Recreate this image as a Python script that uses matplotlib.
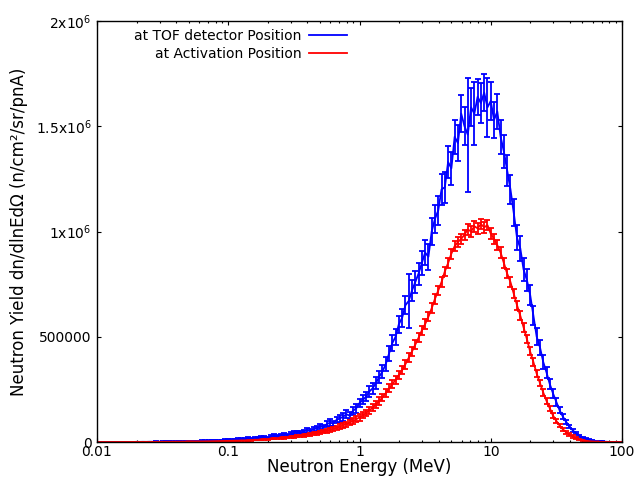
import numpy as np
import matplotlib
matplotlib.use('Agg')
import matplotlib.pyplot as plt
from matplotlib.ticker import FixedLocator, FixedFormatter, LogLocator, NullFormatter

energy = [
    0.01000, 0.01059, 0.01122, 0.01189, 0.01259, 0.01334, 0.01413, 0.01496, 0.01585, 0.01679,
    0.01778, 0.01884, 0.01995, 0.02113, 0.02239, 0.02371, 0.02512, 0.02661, 0.02818, 0.02985,
    0.03162, 0.03350, 0.03548, 0.03758, 0.03981, 0.04217, 0.04467, 0.04732, 0.05012, 0.05309,
    0.05623, 0.05957, 0.06310, 0.06683, 0.07079, 0.07499, 0.07943, 0.08414, 0.08913, 0.09441,
    0.1000, 0.1059, 0.1122, 0.1189, 0.1259, 0.1334, 0.1413, 0.1496, 0.1585, 0.1679,
    0.1778, 0.1884, 0.1995, 0.2113, 0.2239, 0.2371, 0.2512, 0.2661, 0.2818, 0.2985,
    0.3162, 0.3350, 0.3548, 0.3758, 0.3981, 0.4217, 0.4467, 0.4732, 0.5012, 0.5309,
    0.5623, 0.5957, 0.6310, 0.6683, 0.7079, 0.7499, 0.7943, 0.8414, 0.8913, 0.9441,
    1.000, 1.059, 1.122, 1.189, 1.259, 1.334, 1.413, 1.496, 1.585, 1.679,
    1.778, 1.884, 1.995, 2.113, 2.239, 2.371, 2.512, 2.661, 2.818, 2.985,
    3.162, 3.350, 3.548, 3.758, 3.981, 4.217, 4.467, 4.732, 5.012, 5.309,
    5.623, 5.957, 6.310, 6.683, 7.079, 7.499, 7.943, 8.414, 8.913, 9.441,
    10.00, 10.59, 11.22, 11.89, 12.59, 13.34, 14.13, 14.96, 15.85, 16.79,
    17.78, 18.84, 19.95, 21.13, 22.39, 23.71, 25.12, 26.61, 28.18, 29.85,
    31.62, 33.50, 35.48, 37.58, 39.81, 42.17, 44.67, 47.32, 50.12, 53.09,
    56.23, 59.57, 63.10, 66.83, 70.79, 74.99, 79.43, 84.14, 89.13, 94.41,
    100.0,
]

# yields in units of 1000 n/cm^2/sr/pnA
tof_yield_k = [
    0, 0, 0, 0, 0, 0.2, 0, 0, 0.3, 0,
    0.5, 0, 0.8, 0.6, 1.0, 0.7, 1.2, 0.9, 1.5, 1.3,
    1.8, 1.5, 2.2, 2.0, 2.6, 2.4, 3.0, 3.5, 3.2, 4.0,
    4.5, 4.2, 5.2, 5.0, 6.0, 6.8, 6.3, 7.5, 8.2, 8.8,
    10, 12, 9, 13, 15, 13, 17, 16, 20, 18,
    22, 25, 21, 27, 30, 26, 33, 36, 32, 40,
    43, 46, 42, 50, 55, 52, 60, 66, 74, 70,
    84, 92, 88, 105, 112, 120, 132, 125, 148, 160,
    185, 200, 215, 240, 255, 280, 310, 335, 370, 420,
    470, 500, 560, 590, 650, 670, 720, 760, 800, 850,
    900, 880, 1000, 1060, 1100, 1200, 1210, 1330, 1300, 1450,
    1420, 1560, 1500, 1460, 1590, 1560, 1640, 1610, 1660, 1590,
    1620, 1530, 1570, 1450, 1380, 1290, 1200, 1090, 970, 920,
    820, 770, 700, 600, 500, 450, 380, 330, 275, 230,
    190, 150, 120, 95, 75, 55, 42, 30, 22, 15,
    10, 7, 5, 3, 2, 1, 0.5, 0, 0, 0,
    0,
]
tof_err_k = [
    0, 0, 0, 0, 0, 0.3, 0, 0, 0.4, 0,
    0.5, 0, 0.7, 0.6, 0.8, 0.7, 0.9, 0.8, 1.1, 1.0,
    1.2, 1.1, 1.4, 1.3, 1.5, 1.5, 1.7, 1.9, 1.8, 2.1,
    2.3, 2.2, 2.5, 2.4, 2.7, 2.9, 2.8, 3.1, 3.3, 3.5,
    3.6, 3.9, 3.5, 4.0, 4.3, 4.0, 4.5, 4.4, 4.9, 4.6,
    5.2, 5.6, 5.0, 5.8, 6.2, 5.7, 6.6, 7.0, 6.5, 7.5,
    8, 8.5, 8, 9, 10, 9.5, 11, 12, 13, 12,
    14, 15, 14, 16, 17, 18, 19, 18, 20, 20,
    20, 21, 22, 24, 25, 27, 28, 30, 32, 34,
    36, 38, 40, 42, 44, 130, 48, 50, 52, 55,
    60, 62, 65, 68, 70, 72, 75, 78, 80, 82,
    85, 88, 90, 270, 90, 150, 85, 95, 88, 140,
    90, 85, 85, 80, 78, 75, 70, 65, 60, 58,
    55, 52, 48, 44, 40, 36, 32, 28, 24, 20,
    17, 14, 12, 10, 8, 7, 6, 5, 4, 3,
    2.5, 2, 1.5, 1.2, 1, 0.8, 0.5, 0, 0, 0,
    0,
]
act_yield_k = [
    0, 0, 0, 0, 0, 0, 0, 0, 0, 0,
    0.2, 0.2, 0.3, 0.3, 0.4, 0.4, 0.5, 0.6, 0.7, 0.8,
    0.9, 1.0, 1.1, 1.2, 1.3, 1.4, 1.5, 1.7, 1.8, 2.0,
    2.2, 2.4, 2.6, 2.9, 3.1, 3.4, 3.7, 4.0, 4.3, 4.6,
    5.0, 5.4, 5.9, 6.4, 7.0, 7.6, 8.3, 9.0, 9.8, 10.6,
    11.5, 12.5, 13.6, 14.8, 16.0, 17.3, 18.6, 20.0, 21.5, 23.0,
    25, 27, 29, 31.5, 34, 36.5, 39, 42, 45, 49,
    53, 57, 62, 67, 73, 79, 85, 92, 100, 108,
    117, 127, 138, 150, 163, 178, 194, 212, 232, 255,
    275, 295, 318, 342, 370, 400, 430, 462, 495, 530,
    560, 595, 635, 680, 720, 760, 810, 850, 895, 930,
    950, 965, 985, 1010, 1000, 1025, 1015, 1035, 1020, 1030,
    990, 965, 935, 900, 850, 800, 760, 705, 650, 600,
    545, 490, 430, 380, 325, 280, 235, 195, 160, 125,
    100, 78, 60, 46, 35, 26, 18, 12, 8, 5,
    3.5, 2.5, 1.5, 1, 0.5, 0.3, 0.2, 0.1, 0, 0,
    0,
]
act_err_k = [
    0, 0, 0, 0, 0, 0, 0, 0, 0, 0,
    0.1, 0.1, 0.1, 0.2, 0.2, 0.2, 0.2, 0.3, 0.3, 0.3,
    0.3, 0.4, 0.4, 0.4, 0.5, 0.5, 0.5, 0.6, 0.6, 0.7,
    0.7, 0.8, 0.8, 0.9, 0.9, 1.0, 1.0, 1.1, 1.2, 1.3,
    1.3, 1.4, 1.5, 1.6, 1.7, 1.8, 1.9, 2.0, 2.1, 2.3,
    2.4, 2.6, 2.7, 2.9, 3.1, 3.3, 3.5, 3.7, 4.0, 4.2,
    4.5, 4.8, 5.1, 5.5, 5.8, 6.2, 6.6, 7.0, 7.5, 8.0,
    8.5, 9.0, 9.5, 10, 11, 11.5, 12, 13, 13.5, 14,
    15, 15, 16, 16, 17, 17, 18, 18, 19, 19,
    19, 20, 20, 20, 21, 21, 21, 22, 22, 22,
    22, 22, 23, 23, 23, 23, 23, 24, 24, 24,
    24, 24, 24, 25, 25, 25, 25, 25, 25, 25,
    25, 25, 24, 24, 24, 23, 23, 22, 22, 21,
    21, 20, 19, 18, 17, 16, 15, 14, 12, 11,
    10, 9, 8, 7, 6, 5, 4, 3.5, 3, 2.5,
    2, 1.5, 1.2, 1, 0.8, 0.6, 0.4, 0.3, 0.2, 0.1,
    0,
]

series_labels = ['at TOF detector Position', 'at Activation Position']
series_colors = ['#0000ff', '#ff0000']

xticks = [0.01, 0.1, 1, 10, 100]
xticklabels = ['0.01', '0.1', '1', '10', '100']
yticks = [0, 500000, 1000000, 1500000, 2000000]
yticklabels = ['0', '500000', '1x10$^6$', '1.5x10$^6$', '2x10$^6$']

plt.rcParams['font.family'] = ['DejaVu Sans']
plt.rcParams['mathtext.fontset'] = 'dejavusans'

fig = plt.figure(figsize=(6.35, 4.78), dpi=100)
ax = fig.add_axes([97 / 635, 36 / 478, 525 / 635, 421 / 478])

E = np.array(energy)
series = [(np.array(tof_yield_k) * 1e3, np.array(tof_err_k) * 1e3),
          (np.array(act_yield_k) * 1e3, np.array(act_err_k) * 1e3)]

for (y, e), c, lab in zip(series, series_colors, series_labels):
    ax.errorbar(E, y, yerr=e, color=c, lw=1.3, elinewidth=1.3,
                capsize=2.2, capthick=1.3)
    ax.plot([], [], color=c, lw=1.3, label=lab)

ax.set_xscale('log')
ax.set_xlim(0.01, 100)
ax.set_ylim(0, 2000000)

ax.xaxis.set_major_locator(FixedLocator(xticks))
ax.xaxis.set_major_formatter(FixedFormatter(xticklabels))
ax.xaxis.set_minor_locator(LogLocator(base=10, subs=np.arange(2, 10)))
ax.xaxis.set_minor_formatter(NullFormatter())
ax.yaxis.set_major_locator(FixedLocator(yticks))
ax.yaxis.set_major_formatter(FixedFormatter(yticklabels))

ax.tick_params(which='both', direction='in', top=True, right=True, labelsize=10, width=0.8)
ax.tick_params(which='major', length=3.2)
ax.tick_params(which='minor', length=1.7)
ax.tick_params(axis='x', which='major', pad=2.5)
ax.tick_params(axis='y', which='major', pad=4)
for s in ax.spines.values():
    s.set_linewidth(1.0)

ax.set_xlabel('Neutron Energy (MeV)', fontsize=12, labelpad=-1)
ax.set_ylabel('Neutron Yield dn/dlnEd\u03a9 (n/cm\u00b2/sr/pnA)', fontsize=12, labelpad=6)

leg = ax.legend(loc='upper right', bbox_to_anchor=(256 / 525, 0.995), frameon=False,
                markerfirst=False, fontsize=10, handlelength=2.8, handletextpad=0.5,
                labelspacing=0.3, borderpad=0.4, borderaxespad=0)

fig.savefig('out.png', dpi=100)
